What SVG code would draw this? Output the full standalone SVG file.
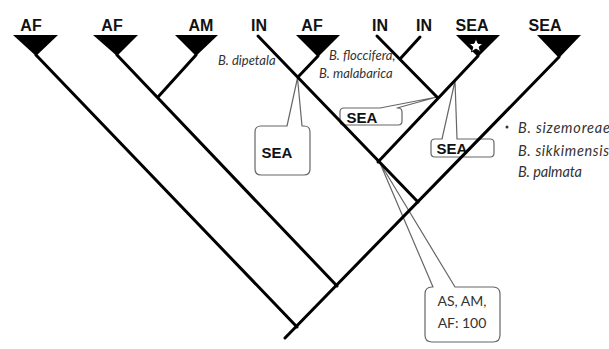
<svg xmlns="http://www.w3.org/2000/svg" width="609" height="349" viewBox="0 0 609 349">
  <style>
    .tip { font-family: "Liberation Sans", Arial, sans-serif; font-weight: bold; font-size: 16px; fill: #111; text-anchor: middle; }
    .clade { fill: #000; }
    .branch { stroke: #000; stroke-width: 3; fill: none; stroke-linecap: round; }
    .sp { font-family: Lato, "Open Sans", sans-serif; font-style: italic; font-size: 13px; fill: #333; }
    .sp2 { font-family: Lato, "Open Sans", sans-serif; font-style: italic; font-size: 14.5px; fill: #333; }
    .call { fill: none; stroke: #666; stroke-width: 1.2; stroke-linejoin: round; }
    .calltxt { font-family: "Liberation Sans", Arial, sans-serif; font-weight: bold; font-size: 15px; fill: #111; text-anchor: middle; }
    .calltxt2 { font-family: Lato, "Open Sans", sans-serif; font-size: 14px; fill: #333; text-anchor: middle; }
  </style>
  <rect width="609" height="349" fill="#fff"/>

  <!-- species names -->
  <g id="species">
    <text class="sp" x="218" y="65">B. dipetala</text>
    <text class="sp" x="329" y="60">B. floccifera,</text>
    <text class="sp" x="319" y="78">B. malabarica</text>
    <circle cx="507" cy="127" r="1.5" fill="#333"/>
    <text class="sp2" x="518" y="133" textLength="92" lengthAdjust="spacing">B. sizemoreae</text>
    <text class="sp2" x="518" y="156" textLength="91" lengthAdjust="spacing">B. sikkimensis</text>
    <text class="sp2" x="518" y="177" textLength="64" lengthAdjust="spacing">B. palmata</text>
  </g>

  <!-- terminal taxa -->
  <g id="tip-af1"><text class="tip" x="31" y="31">AF</text><polygon class="clade" points="13,35 58,35 36,56"/></g>
  <g id="tip-af2"><text class="tip" x="112" y="31">AF</text><polygon class="clade" points="93,35 138,35 117,56"/></g>
  <g id="tip-am"><text class="tip" x="201" y="31">AM</text><polygon class="clade" points="175,35 218,35 196,56"/></g>
  <g id="tip-in1"><text class="tip" x="259" y="31">IN</text></g>
  <g id="tip-af3"><text class="tip" x="312" y="31">AF</text><polygon class="clade" points="296,35 340,35 318,57"/></g>
  <g id="tip-in2"><text class="tip" x="380" y="31">IN</text></g>
  <g id="tip-in3"><text class="tip" x="424" y="31">IN</text></g>
  <g id="tip-sea1"><text class="tip" x="472" y="31">SEA</text><polygon class="clade" points="456,35 500,35 478,57"/>
    <polygon points="476,38.5 478,43.3 483.1,43.6 479.2,46.9 480.5,51.9 476,49.1 471.5,51.9 472.8,46.9 468.9,43.6 474,43.3" fill="#fff" stroke="#000" stroke-width="1"/></g>
  <g id="tip-sea2"><text class="tip" x="545" y="31">SEA</text><polygon class="clade" points="537,35 581,35 559,58"/></g>

  <!-- callouts -->
  <g id="callout-sea-a">
    <path class="call" d="M261,126 H287 L297.5,78 L302,126 H304 Q310,126 310,132 V169 Q310,175 304,175 H261 Q255,175 255,169 V132 Q255,126 261,126 Z" style="fill:#fff"/>
    <text class="calltxt" x="277" y="158">SEA</text>
  </g>
  <g id="callout-sea-b">
    <path class="call" d="M344,108 H380 L437,97 L397,108 H398 Q402,108 402,112 V121 Q402,125 398,125 H344 Q340,125 340,121 V112 Q340,108 344,108 Z"/>
    <text class="calltxt" x="362" y="123">SEA</text>
  </g>
  <g id="callout-sea-c">
    <path class="call" d="M435,139 H442 L455,81 L457,139 H490 Q494,139 494,143 V153 Q494,157 490,157 H435 Q431,157 431,153 V143 Q431,139 435,139 Z"/>
    <text class="calltxt" x="452" y="154">SEA</text>
  </g>
  <g id="callout-node">
    <path class="call" d="M432,287 H433 L380,163 L455,287 H493 Q500,287 500,294 V335 Q500,342 493,342 H432 Q425,342 425,335 V294 Q425,287 432,287 Z" style="fill:#fff"/>
    <text class="calltxt2" x="462" y="306">AS, AM,</text>
    <text class="calltxt2" x="462" y="328">AF: 100</text>
  </g>

  <!-- branches -->
  <g id="connectors">
    <line class="branch" x1="36" y1="55" x2="297" y2="327"/>
    <line class="branch" x1="285" y1="338" x2="559" y2="57"/>
    <line class="branch" x1="117" y1="55" x2="337" y2="286"/>
    <line class="branch" x1="196" y1="55" x2="158" y2="97"/>
    <line class="branch" x1="258" y1="36" x2="418" y2="202"/>
    <line class="branch" x1="318" y1="56" x2="298" y2="77"/>
    <line class="branch" x1="478" y1="56" x2="378" y2="162"/>
    <line class="branch" x1="377" y1="36" x2="437" y2="97"/>
    <line class="branch" x1="420" y1="37" x2="400" y2="59"/>
  </g>
</svg>
